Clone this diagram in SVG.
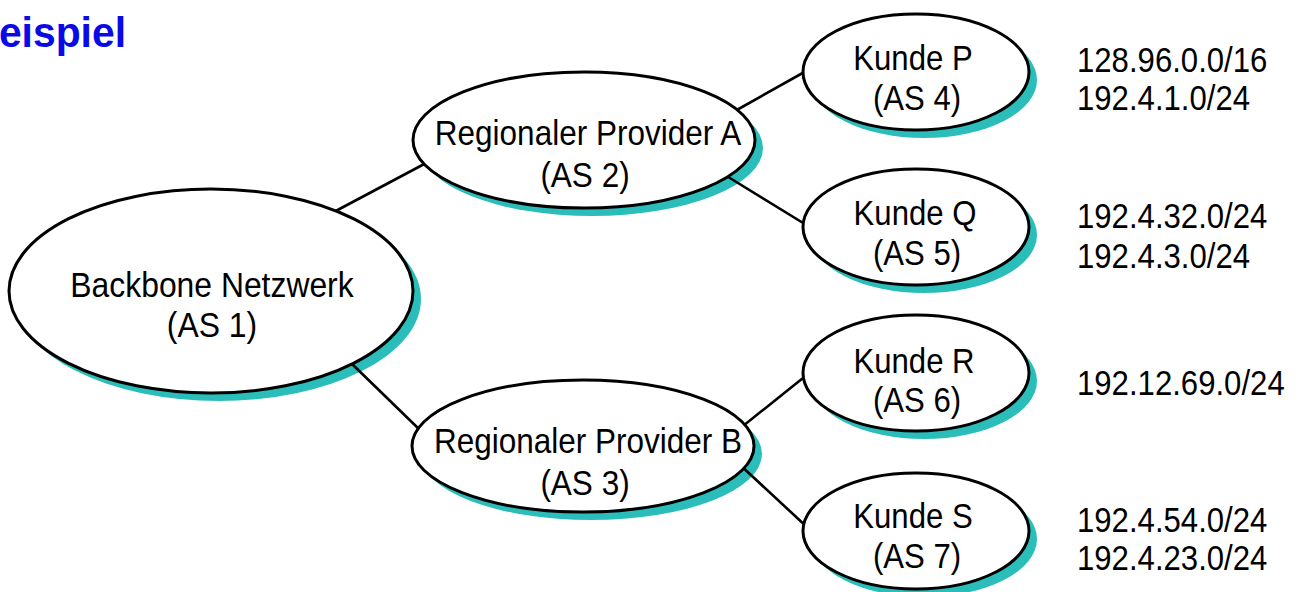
<svg xmlns="http://www.w3.org/2000/svg" width="1306" height="592" viewBox="0 0 1306 592">
  <style>
    .shadow { fill: #2bbdb9; stroke: none; }
    .node { fill: #ffffff; stroke: #000000; stroke-width: 3; }
    .link { stroke: #000000; stroke-width: 2.6; fill: none; }
    .label { font-family: "Liberation Sans", Arial, Helvetica, sans-serif; font-size: 36px; fill: #000000; text-anchor: middle; }
    .prefix { font-family: "Liberation Sans", Arial, Helvetica, sans-serif; font-size: 36px; fill: #000000; text-anchor: start; }
    .title { font-family: "Liberation Sans", Arial, Helvetica, sans-serif; font-size: 43px; font-weight: bold; fill: #0a0ae6; text-anchor: end; }
  </style>

  <rect x="0" y="0" width="1306" height="592" fill="#ffffff"/>

  <!-- heading -->
  <text class="title" transform="matrix(0.95 0 0 1 126 47)">eispiel</text>

  <!-- drop shadows, offset down-right -->
  <g id="shadows">
    <ellipse class="shadow" cx="219" cy="299" rx="202" ry="102"/>
    <ellipse class="shadow" cx="592" cy="148" rx="171" ry="68"/>
    <ellipse class="shadow" cx="591" cy="454" rx="171" ry="66"/>
    <ellipse class="shadow" cx="924" cy="80" rx="113" ry="58"/>
    <ellipse class="shadow" cx="924" cy="235" rx="113" ry="58"/>
    <ellipse class="shadow" cx="924" cy="381" rx="113" ry="58"/>
    <ellipse class="shadow" cx="924" cy="539" rx="113" ry="58"/>
  </g>

  <!-- links between autonomous systems -->
  <g id="connectors">
    <line class="link" x1="332" y1="213" x2="428" y2="162"/>
    <line class="link" x1="350" y1="362" x2="421" y2="431"/>
    <line class="link" x1="735" y1="111" x2="808" y2="70"/>
    <line class="link" x1="725" y1="175" x2="808" y2="226"/>
    <line class="link" x1="743" y1="426" x2="808" y2="374"/>
    <line class="link" x1="738" y1="463" x2="808" y2="528"/>
  </g>

  <g id="as1">
    <ellipse class="node" cx="211" cy="291" rx="202" ry="102"/>
    <text class="label" transform="matrix(0.885 0 0 1 212 297)">Backbone Netzwerk</text>
    <text class="label" transform="matrix(0.885 0 0 1 212 337)">(AS 1)</text>
  </g>

  <g id="as2">
    <ellipse class="node" cx="584" cy="140" rx="171" ry="68"/>
    <text class="label" transform="matrix(0.875 0 0 1 588 145)">Regionaler Provider A</text>
    <text class="label" transform="matrix(0.875 0 0 1 585 187)">(AS 2)</text>
  </g>

  <g id="as3">
    <ellipse class="node" cx="583" cy="446" rx="171" ry="66"/>
    <text class="label" transform="matrix(0.875 0 0 1 588 453)">Regionaler Provider B</text>
    <text class="label" transform="matrix(0.875 0 0 1 585 495)">(AS 3)</text>
  </g>

  <g id="as4">
    <ellipse class="node" cx="916" cy="72" rx="113" ry="58"/>
    <text class="label" transform="matrix(0.865 0 0 1 913 70)">Kunde P</text>
    <text class="label" transform="matrix(0.865 0 0 1 917 110)">(AS 4)</text>
  </g>

  <g id="as5">
    <ellipse class="node" cx="916" cy="227" rx="113" ry="58"/>
    <text class="label" transform="matrix(0.865 0 0 1 915 225)">Kunde Q</text>
    <text class="label" transform="matrix(0.865 0 0 1 917 265)">(AS 5)</text>
  </g>

  <g id="as6">
    <ellipse class="node" cx="916" cy="373" rx="113" ry="58"/>
    <text class="label" transform="matrix(0.865 0 0 1 914 373)">Kunde R</text>
    <text class="label" transform="matrix(0.865 0 0 1 917 412)">(AS 6)</text>
  </g>

  <g id="as7">
    <ellipse class="node" cx="916" cy="531" rx="113" ry="58"/>
    <text class="label" transform="matrix(0.865 0 0 1 913 528)">Kunde S</text>
    <text class="label" transform="matrix(0.865 0 0 1 917 568)">(AS 7)</text>
  </g>

  <!-- address prefixes announced by each customer -->
  <g id="prefixes">
    <text class="prefix" transform="matrix(0.865 0 0 1 1077 72)">128.96.0.0/16</text>
    <text class="prefix" transform="matrix(0.865 0 0 1 1077 110)">192.4.1.0/24</text>
    <text class="prefix" transform="matrix(0.865 0 0 1 1077 228)">192.4.32.0/24</text>
    <text class="prefix" transform="matrix(0.865 0 0 1 1077 268)">192.4.3.0/24</text>
    <text class="prefix" transform="matrix(0.865 0 0 1 1077 395)">192.12.69.0/24</text>
    <text class="prefix" transform="matrix(0.865 0 0 1 1077 532)">192.4.54.0/24</text>
    <text class="prefix" transform="matrix(0.865 0 0 1 1077 570)">192.4.23.0/24</text>
  </g>
</svg>
